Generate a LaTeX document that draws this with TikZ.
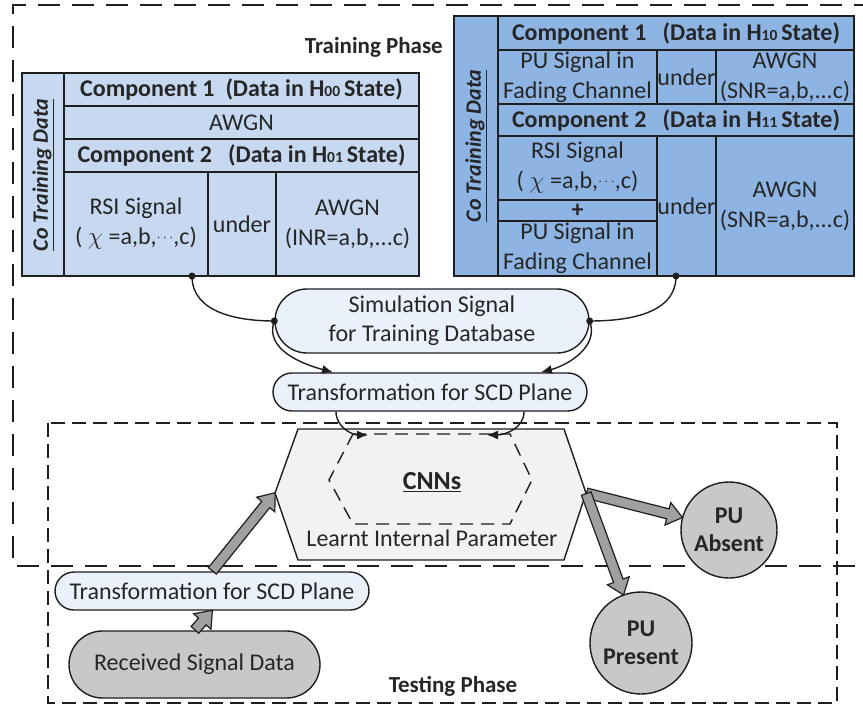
\documentclass[tikz,border=0pt]{standalone}
\usepackage{fontspec}
\setmainfont{Carlito}
\usetikzlibrary{
  arrows.meta,
  positioning,
  calc,
  shapes.misc,
  shapes.arrows
}
\definecolor{ink}{RGB}{30,30,30}
\definecolor{txt}{RGB}{38,38,38}
\definecolor{paleblue}{RGB}{198,217,241}
\definecolor{midblue}{RGB}{141,180,226}
\definecolor{iceblue}{RGB}{234,241,250}
\definecolor{cnngray}{RGB}{242,242,242}
\definecolor{discgray}{RGB}{200,200,200}
\definecolor{arrgray}{RGB}{160,160,160}
\newcommand{\hsub}[1]{{\fontsize{15.5}{15.5}\selectfont #1}}
\newcommand{\mdots}{\raisebox{3pt}{\fontsize{15}{15}\selectfont$\cdots$}}
\newcommand{\tcell}[7]{%
  \filldraw[fill=#6,draw=ink,line width=1.6pt] (#2,#3) rectangle (#4,#5);%
  \node[celltxt] (#1) at ({(#2+#4)/2},{(#3+#5)/2}) {#7};%
}
\newcommand{\blkarrow}[3]{%
  \path let \p1=($(#3)-(#2)$), \n1={atan2(\y1,\x1)}, \n2={veclen(\x1,\y1)} in
    node[blkarr,minimum height=\n2,rotate=\n1,anchor=tail] (#1) at (#2) {};%
}
\tikzset{
  celltxt/.style={align=center,inner sep=0pt,text=txt,font=\fontsize{24}{30}\selectfont},
  sidetxt/.style={rotate=90,inner sep=0pt,text=txt,font=\fontsize{22}{26}\selectfont\bfseries\itshape},
  pill/.style={rounded rectangle,draw=ink,line width=1.4pt,fill=iceblue,align=center,
    inner sep=0pt,text=txt,font=\fontsize{24}{29}\selectfont},
  disc/.style={circle,draw=ink,line width=1.4pt,fill=discgray,align=center,inner sep=0pt,
    text=txt,font=\fontsize{24}{28}\selectfont\bfseries},
  phase/.style={inner sep=0pt,text=txt,font=\fontsize{23}{27}\selectfont\bfseries},
  blkarr/.style={single arrow,draw=ink,fill=arrgray,line width=1.2pt,inner xsep=0pt,
    inner ysep=4.5pt,single arrow head extend=6.5pt,single arrow tip angle=75},
  link/.style={draw=ink,line width=1.4pt},
  linkarr/.style={link,-{Latex[length=11pt,width=9pt]}}
}

\begin{document}
\begin{tikzpicture}[x=1pt,y=-1pt]
  \useasboundingbox (0,0) rectangle (863,704);

  % phase frames
  \draw[ink,line width=1.5pt,dash pattern=on 22pt off 12pt]
    (855,566) -- (13,566) -- (13,5) -- (863,5);
  \draw[ink,line width=1.5pt,dash pattern=on 14pt off 7pt]
    (48,423) rectangle (837,703);
  \node[phase,anchor=east] (trainlbl) at (443,47) {Training Phase};
  \node[phase] (testlbl) at (453,686) {Testing Phase};

  % co training data, H0
  \tcell{lside}{22}{73}{64}{276}{paleblue}{}
  \node[sidetxt] (lsidet) at (43,175) {\underline{Co Training Data}};
  \tcell{lcomp1}{64}{73}{419}{106}{paleblue}{\bfseries Component 1\ \ (Data in H\hsub{00}\,State)}
  \tcell{lawgn}{64}{106}{419}{139}{paleblue}{AWGN}
  \tcell{lcomp2}{64}{139}{419}{172}{paleblue}{\bfseries Component 2\ \ \ (Data in H\hsub{01}\,State)}
  \tcell{lrsi}{64}{172}{208}{276}{paleblue}{RSI Signal\\( $\chi$ =a,b,\mdots,c)}
  \tcell{lunder}{208}{172}{276}{276}{paleblue}{under}
  \tcell{linr}{276}{172}{419}{276}{paleblue}{AWGN\\(INR=a,b,...c)}

  % co training data, H1
  \tcell{rside}{454}{16}{498}{276}{midblue}{}
  \node[sidetxt] (rsidet) at (476,146) {\underline{Co Training Data}};
  \tcell{rcomp1}{498}{16}{854}{50}{midblue}{\bfseries Component 1\ \ \ (Data in H\hsub{10}\,State)}
  \tcell{rpu}{498}{50}{657}{104}{midblue}{\baselineskip=26pt PU Signal in\\Fading Channel}
  \tcell{runder}{657}{50}{716}{104}{midblue}{under}
  \tcell{rsnr}{716}{50}{854}{104}{midblue}{\baselineskip=26pt AWGN\\(SNR=a,b,...c)}
  \tcell{rcomp2}{498}{104}{854}{136}{midblue}{\bfseries Component 2\ \ \ (Data in H\hsub{11}\,State)}
  \tcell{rrsi}{498}{136}{657}{200}{midblue}{RSI Signal\\( $\chi$ =a,b,\mdots,c)}
  \tcell{rplus}{498}{200}{657}{221}{midblue}{\bfseries +}
  \tcell{rpu2}{498}{221}{657}{276}{midblue}{\baselineskip=26pt PU Signal in\\Fading Channel}
  \tcell{runder2}{657}{136}{716}{276}{midblue}{under}
  \tcell{rsnr2}{716}{136}{854}{276}{midblue}{AWGN\\(SNR=a,b,...c)}

  \coordinate (ldot) at (192,276);
  \coordinate (rdot) at (676,276);

  % training path
  \node[pill,minimum width=314pt,minimum height=64pt] (sim) at (432,321)
    {Simulation Signal\\for Training Database};
  \node[pill,minimum width=314pt,minimum height=38pt] (tup) at (430,392)
    {Transformation for SCD Plane};
  \draw[link] (ldot) to[out=-90,in=180] (sim.west);
  \draw[link] (rdot) to[out=-90,in=0] (sim.east);
  \coordinate (tupL) at ($(tup.north)+(-97,0)$);
  \coordinate (tupR) at ($(tup.north)+(111,0)$);
  \draw[linkarr] (sim.west) to[out=-110,in=165] (tupL);
  \draw[linkarr] (sim.east) to[out=-70,in=15] (tupR);
  \foreach \d in {ldot,rdot,sim.west,sim.east}
    \fill[ink] (\d) circle (3.5pt);

  % CNNs
  \coordinate (cnnW) at (275,493);
  \coordinate (cnnE) at (586,493);
  \filldraw[fill=cnngray,draw=ink,line width=1.4pt]
    (298,429) -- (564,429) -- (cnnE) -- (564,560) -- (298,560) -- (cnnW) -- cycle;
  \draw[ink,line width=1.4pt,dash pattern=on 13pt off 8pt]
    (353,434) -- (510,434) -- (532,480) -- (510,524) -- (353,524) -- (329,480) -- cycle;
  \node[inner sep=0pt,text=txt,font=\fontsize{26}{30}\selectfont\bfseries] (cnn) at (432,482) {\underline{CNNs}};
  \node[celltxt] (learnt) at (432,538) {Learnt Internal Parameter};
  \coordinate (cinL) at (368,435);
  \coordinate (cinR) at (487,435);
  \draw[linkarr] ($(tup.south)+(-94,0)$) to[out=-90,in=180] (cinL);
  \draw[linkarr] ($(tup.south)+(94,0)$) to[out=-90,in=0] (cinR);

  % decisions
  \node[disc,minimum size=96pt] (absent) at (729,530) {PU\\Absent};
  \node[disc,minimum size=102pt] (present) at (641,643) {PU\\Present};

  % testing path
  \node[pill,minimum width=314pt,minimum height=38pt] (tlow) at (212,591)
    {Transformation for SCD Plane};
  \node[pill,fill=discgray,minimum width=251pt,minimum height=67pt] (recv) at (194.5,664.5)
    {Received Signal Data};

  \blkarrow{a1}{recv.north}{tlow.south}
  \blkarrow{a2}{tlow.north}{cnnW}
  \blkarrow{a3}{cnnE}{absent.165}
  \blkarrow{a4}{cnnE}{present.110}
\end{tikzpicture}
\end{document}
